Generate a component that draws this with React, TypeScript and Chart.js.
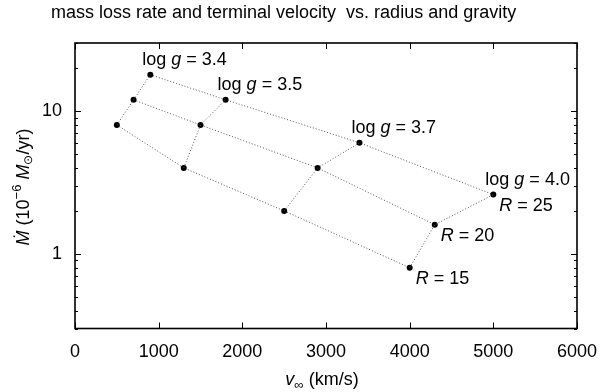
import React, { useEffect, useRef } from "react";
import { Chart, registerables } from "chart.js";

Chart.register(...registerables);

// ---- data ----
const radii = [15, 20, 25];
const loggLabels = ["3.4", "3.5", "3.7", "4.0"];
const vinfR15 = [500, 1300, 2500, 4000];
const mdotR15 = [8, 4, 2, 0.8];
const vinfR20 = [700, 1500, 2900, 4300];
const mdotR20 = [12, 8, 4, 1.6];
const vinfR25 = [900, 1800, 3400, 5000];
const mdotR25 = [18, 12, 6, 2.6];
const xTickStep = 1000;
const yTickValues = [0.3, 0.4, 0.5, 0.6, 0.7, 0.8, 0.9, 1, 2, 3, 4, 5, 6, 7, 8, 9, 10, 20, 30];
const yTickLabels = [1, 10];

const FONT = "'Liberation Sans', Arial, Helvetica, sans-serif";

type Part = { text: string; italic?: boolean; size?: number; dy?: number };

function drawRich(ctx: CanvasRenderingContext2D, parts: Part[], x: number, y: number, align: "left" | "center") {
  const base = 18;
  let total = 0;
  const widths: number[] = [];
  for (const p of parts) {
    ctx.font = `${p.italic ? "italic " : ""}${p.size || base}px ${FONT}`;
    const w = ctx.measureText(p.text).width;
    widths.push(w);
    total += w;
  }
  let cx = align === "center" ? x - total / 2 : x;
  ctx.textBaseline = "middle";
  ctx.textAlign = "left";
  parts.forEach((p, i) => {
    ctx.font = `${p.italic ? "italic " : ""}${p.size || base}px ${FONT}`;
    ctx.fillText(p.text, cx, y + (p.dy || 0));
    cx += widths[i];
  });
}

const rows = [
  { r: radii[0], xs: vinfR15, ys: mdotR15 },
  { r: radii[1], xs: vinfR20, ys: mdotR20 },
  { r: radii[2], xs: vinfR25, ys: mdotR25 },
];

const decorPlugin = {
  id: "decor",
  afterDraw(chart: any) {
    const { ctx, chartArea: a, scales } = chart;
    const x = scales.x;
    const y = scales.y;
    ctx.save();
    ctx.fillStyle = "#000";
    ctx.strokeStyle = "#000";
    // inward ticks
    ctx.lineWidth = 1;
    ctx.beginPath();
    for (let v = 0; v <= 6000; v += xTickStep) {
      const px = Math.round(x.getPixelForValue(v)) + 0.5;
      ctx.moveTo(px, a.bottom);
      ctx.lineTo(px, a.bottom - 6);
      ctx.moveTo(px, a.top);
      ctx.lineTo(px, a.top + 6);
    }
    for (const v of yTickValues) {
      const py = Math.round(y.getPixelForValue(v)) + 0.5;
      const len = yTickLabels.includes(v) ? 6 : 3;
      ctx.moveTo(a.left, py);
      ctx.lineTo(a.left + len, py);
      ctx.moveTo(a.right, py);
      ctx.lineTo(a.right - len, py);
    }
    ctx.stroke();
    // frame
    ctx.lineWidth = 1.6;
    ctx.strokeRect(a.left, a.top, a.right - a.left, a.bottom - a.top);

    // title
    ctx.font = `18px ${FONT}`;
    ctx.textBaseline = "middle";
    ctx.textAlign = "left";
    ctx.fillText("mass loss rate and terminal velocity  vs. radius and gravity", 51, 13);

    // log g labels above R=25 points
    const top = rows[2];
    top.xs.forEach((vx, i) => {
      const px = x.getPixelForValue(vx);
      const py = y.getPixelForValue(top.ys[i]);
      drawRich(ctx, [{ text: "log " }, { text: "g", italic: true }, { text: " = " + loggLabels[i] }], px - 8, py - 15, "left");
    });
    // R labels at log g = 4.0 points
    rows.forEach((row) => {
      const px = x.getPixelForValue(row.xs[3]);
      const py = y.getPixelForValue(row.ys[3]);
      drawRich(ctx, [{ text: "R", italic: true }, { text: " = " + row.r }], px + 6, py + 11, "left");
    });

    // x axis title
    drawRich(ctx, [{ text: "v", italic: true }, { text: "\u221E", size: 13, dy: 5 }, { text: " (km/s)" }], 322, 380, "center");

    // y axis title
    ctx.translate(24, 187);
    ctx.rotate(-Math.PI / 2);
    drawRich(
      ctx,
      [
        { text: "\u1E40", italic: true },
        { text: " (10" },
        { text: "\u22126", size: 13, dy: -7 },
        { text: " " },
        { text: "M", italic: true },
        { text: "\u2299", size: 12, dy: 5 },
        { text: "/yr)" },
      ],
      0,
      0,
      "center"
    );
    ctx.restore();
  },
};

export default function App() {
  const ref = useRef<HTMLCanvasElement>(null);
  useEffect(() => {
    document.body.style.margin = "0";
    if (!ref.current) return;
    const lineStyle = {
      borderColor: "#555",
      borderWidth: 1,
      borderDash: [1, 2],
      showLine: true,
      fill: false,
      tension: 0,
    };
    const rowSets = rows.map((row) => ({
      ...lineStyle,
      label: "R = " + row.r,
      data: row.xs.map((vx, i) => ({ x: vx, y: row.ys[i] })),
      pointRadius: 3,
      pointBackgroundColor: "#000",
      pointBorderColor: "#000",
      pointBorderWidth: 0,
    }));
    const colSets = loggLabels.map((lg, i) => ({
      ...lineStyle,
      label: "log g = " + lg,
      data: rows.map((row) => ({ x: row.xs[i], y: row.ys[i] })),
      pointRadius: 0,
    }));
    const chart = new Chart(ref.current, {
      type: "scatter",
      data: { datasets: [...colSets, ...rowSets] as any },
      options: {
        animation: false,
        responsive: false,
        devicePixelRatio: 1,
        layout: { padding: { left: 0, right: 23, top: 43, bottom: 0 } },
        plugins: { legend: { display: false }, tooltip: { enabled: false } },
        scales: {
          x: {
            type: "linear",
            min: 0,
            max: 6000,
            ticks: {
              stepSize: xTickStep,
              padding: 13,
              color: "#000",
              font: { family: FONT, size: 18 },
              maxRotation: 0,
              autoSkip: false,
              callback: (v: any) => String(v),
            },
            grid: { display: false, drawTicks: false },
            border: { display: false },
            afterFit: (s: any) => {
              s.height = 63.5;
              s.paddingLeft = 0;
              s.paddingRight = 0;
            },
          },
          y: {
            type: "logarithmic",
            min: 0.3,
            max: 30,
            afterBuildTicks: (s: any) => {
              s.ticks = yTickValues.map((v) => ({ value: v }));
            },
            ticks: {
              padding: 13,
              color: "#000",
              font: { family: FONT, size: 18 },
              autoSkip: false,
              callback: (v: any) => (yTickLabels.includes(Number(v)) ? String(v) : ""),
            },
            grid: { display: false, drawTicks: false },
            border: { display: false },
            afterFit: (s: any) => {
              s.width = 75;
              s.paddingTop = 0;
              s.paddingBottom = 0;
            },
          },
        },
      },
      plugins: [decorPlugin],
    } as any);
    return () => chart.destroy();
  }, []);
  return (
    <div style={{ position: "absolute", left: 0, top: 0, width: 600, height: 392 }}>
      <canvas ref={ref} width={600} height={392} style={{ width: 600, height: 392 }} />
    </div>
  );
}
